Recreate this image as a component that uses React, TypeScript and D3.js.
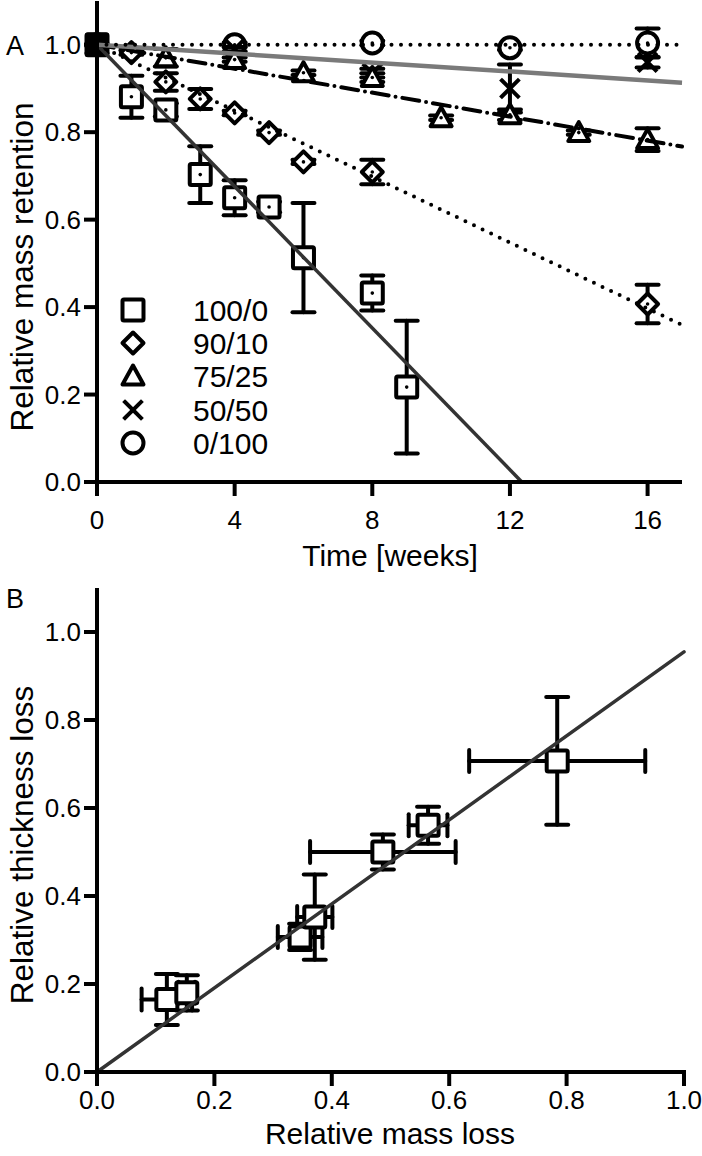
import React from "react";
import * as d3 from "d3";

// ---------- Panel A data ----------
const seriesNames = ["100/0", "90/10", "75/25", "50/50", "0/100"];
const seriesShapes = ["square", "diamond", "triangle", "cross", "circle"];

const weeks100 = [0, 1, 2, 3, 4, 5, 6, 8, 9];
const mass100 = [1.0, 0.881, 0.851, 0.703, 0.65, 0.629, 0.513, 0.432, 0.217];
const err100 = [0, 0.048, 0.015, 0.065, 0.04, 0.012, 0.125, 0.04, 0.152];

const weeks90 = [0, 1, 2, 3, 4, 5, 6, 8, 16];
const mass90 = [1.0, 0.982, 0.915, 0.876, 0.844, 0.799, 0.732, 0.709, 0.407];
const err90 = [0, 0.005, 0.02, 0.023, 0.005, 0.005, 0.005, 0.028, 0.044];

const weeks75 = [0, 2, 4, 6, 8, 10, 12, 14, 16];
const mass75 = [1.0, 0.97, 0.966, 0.936, 0.925, 0.833, 0.84, 0.799, 0.783];
const err75 = [0, 0.02, 0.005, 0.005, 0.01, 0.005, 0.012, 0.005, 0.026];

const weeks50 = [0, 4, 8, 12, 16];
const mass50 = [1.0, 0.99, 0.935, 0.9, 0.96];
const err50 = [0, 0.005, 0.01, 0.055, 0.012];

const weeks0 = [0, 4, 8, 12, 16];
const mass0 = [1.0, 1.0, 1.004, 0.993, 1.004];
const err0 = [0, 0.005, 0.005, 0.005, 0.033];

const fitIntercepts = [1.0, 1.0, 1.0, 1.0, 1.0];
const fitSlopes = [-0.081, -0.0377, -0.0137, -0.0051, 0];

const timeTicks = [0, 4, 8, 12, 16];
const retentionTicks = [0, 0.2, 0.4, 0.6, 0.8, 1.0];

// ---------- Panel B data ----------
const massLoss = [0.119, 0.153, 0.346, 0.371, 0.487, 0.564, 0.784];
const massLossErr = [0.043, 0.014, 0.038, 0.03, 0.124, 0.033, 0.15];
const thickLoss = [0.165, 0.18, 0.307, 0.352, 0.5, 0.561, 0.707];
const thickLossErr = [0.058, 0.04, 0.03, 0.097, 0.04, 0.042, 0.145];
const fitBSlope = 0.955;
const lossTicks = [0, 0.2, 0.4, 0.6, 0.8, 1.0];
const thickTicks = [0, 0.2, 0.4, 0.6, 0.8, 1.0];

const FONT = "'Liberation Sans', Arial, Helvetica, sans-serif";

function Marker({ shape, x, y, dot }: { shape: string; x: number; y: number; dot?: boolean }) {
  const sw = 4;
  let el: React.ReactNode = null;
  if (shape === "square") {
    el = <rect x={x - 10.5} y={y - 10.5} width={21} height={21} fill="#fff" stroke="#000" strokeWidth={sw} rx={1.5} />;
  } else if (shape === "diamond") {
    el = (
      <polygon
        points={`${x},${y - 10.5} ${x + 10.5},${y} ${x},${y + 10.5} ${x - 10.5},${y}`}
        fill="#fff"
        stroke="#000"
        strokeWidth={sw}
        strokeLinejoin="round"
      />
    );
  } else if (shape === "triangle") {
    el = (
      <polygon
        points={`${x},${y - 10.5} ${x + 10.5},${y + 8.5} ${x - 10.5},${y + 8.5}`}
        fill="#fff"
        stroke="#000"
        strokeWidth={sw}
        strokeLinejoin="round"
      />
    );
  } else if (shape === "cross") {
    el = (
      <g stroke="#000" strokeWidth={sw} strokeLinecap="square">
        <line x1={x - 8} y1={y - 8} x2={x + 8} y2={y + 8} />
        <line x1={x - 8} y1={y + 8} x2={x + 8} y2={y - 8} />
      </g>
    );
  } else if (shape === "circle") {
    el = <circle cx={x} cy={y} r={10.5} fill="#fff" stroke="#000" strokeWidth={sw} />;
  }
  return (
    <g>
      {el}
      {dot && shape !== "cross" ? <circle cx={x} cy={y} r={1.8} fill="#000" /> : null}
    </g>
  );
}

function VErr({ x, y1, y2, cap }: { x: number; y1: number; y2: number; cap: number }) {
  return (
    <g stroke="#000" strokeWidth={4} strokeLinecap="round">
      <line x1={x} y1={y1} x2={x} y2={y2} />
      <line x1={x - cap} y1={y1} x2={x + cap} y2={y1} />
      <line x1={x - cap} y1={y2} x2={x + cap} y2={y2} />
    </g>
  );
}

function HErr({ y, x1, x2, cap }: { y: number; x1: number; x2: number; cap: number }) {
  return (
    <g stroke="#000" strokeWidth={4} strokeLinecap="round">
      <line x1={x1} y1={y} x2={x2} y2={y} />
      <line x1={x1} y1={y - cap} x2={x1} y2={y + cap} />
      <line x1={x2} y1={y - cap} x2={x2} y2={y + cap} />
    </g>
  );
}

export default function App() {
  // Panel A scales
  const xA = d3.scaleLinear().domain([0, 17]).range([97, 682]);
  const yA = d3.scaleLinear().domain([0, 1.1]).range([482, 1]);
  // Panel B scales
  const xB = d3.scaleLinear().domain([0, 1]).range([97, 684]);
  const yB = d3.scaleLinear().domain([0, 1.1]).range([1072, 588]);

  const seriesW = [weeks100, weeks90, weeks75, weeks50, weeks0];
  const seriesM = [mass100, mass90, mass75, mass50, mass0];
  const seriesE = [err100, err90, err75, err50, err0];

  const fitStyles = [
    { stroke: "#333", width: 3.5, dash: undefined as string | undefined, cap: "butt" },
    { stroke: "#000", width: 4, dash: "0 9.5", cap: "round" },
    { stroke: "#000", width: 4, dash: "17 7 0 7", cap: "round" },
    { stroke: "#7a7a7a", width: 4.5, dash: undefined, cap: "butt" },
    { stroke: "#000", width: 4, dash: "0 9.5", cap: "round" },
  ];

  const line = d3.line<[number, number]>();

  const fitLines = fitIntercepts.map((b, i) => {
    const m = fitSlopes[i];
    let xEnd = 17;
    if (m < 0 && -b / m < 17) xEnd = -b / m;
    return line([
      [xA(0), yA(b)],
      [xA(xEnd), yA(b + m * xEnd)],
    ]);
  });

  const legendY = [310, 343, 376, 410, 443];

  return (
    <svg
      width={702}
      height={1156}
      style={{ position: "absolute", left: 0, top: 0, background: "#fff" }}
      fontFamily={FONT}
    >
      <rect x={0} y={0} width={702} height={1156} fill="#fff" />
      {/* ================= Panel A ================= */}
      <text x={15} y={55} fontSize={27} textAnchor="middle">A</text>

      {[4, 3, 2, 1, 0].map((si) => (
        <g key={"s" + si}>
          {seriesW[si].map((w, j) =>
            seriesE[si][j] > 0 ? (
              <VErr
                key={j}
                x={xA(w)}
                y1={yA(seriesM[si][j] + seriesE[si][j])}
                y2={yA(seriesM[si][j] - seriesE[si][j])}
                cap={11}
              />
            ) : null
          )}
          {seriesW[si].map((w, j) => (
            <Marker key={"m" + j} shape={seriesShapes[si]} x={xA(w)} y={yA(seriesM[si][j])} dot={j > 0} />
          ))}
        </g>
      ))}
      <rect x={xA(0) - 12} y={yA(1) - 12} width={24} height={24} fill="#000" rx={2} />

      {fitLines.map((d, i) => (
        <path
          key={"f" + i}
          d={d || ""}
          fill="none"
          stroke={fitStyles[i].stroke}
          strokeWidth={fitStyles[i].width}
          strokeDasharray={fitStyles[i].dash}
          strokeLinecap={fitStyles[i].cap as any}
        />
      ))}

      <g stroke="#000" strokeWidth={4}>
        <line x1={xA(0)} y1={yA(1.1)} x2={xA(0)} y2={yA(0) + 2} />
        <line x1={xA(0) - 2} y1={yA(0)} x2={xA(17)} y2={yA(0)} />
        {retentionTicks.map((t) => (
          <line key={"yt" + t} x1={xA(0) - 13} y1={yA(t)} x2={xA(0)} y2={yA(t)} />
        ))}
        {timeTicks.map((t) => (
          <line key={"xt" + t} x1={xA(t)} y1={yA(0)} x2={xA(t)} y2={yA(0) + 14} />
        ))}
      </g>
      {retentionTicks.map((t) => (
        <text key={"yl" + t} x={xA(0) - 16} y={yA(t) + 9} fontSize={26} textAnchor="end">
          {t.toFixed(1)}
        </text>
      ))}
      {timeTicks.map((t) => (
        <text key={"xl" + t} x={xA(t)} y={529} fontSize={26} textAnchor="middle">
          {t}
        </text>
      ))}
      <text x={390} y={566} fontSize={30} textAnchor="middle">Time [weeks]</text>
      <text transform="translate(33,267) rotate(-90)" fontSize={31.5} textAnchor="middle">
        Relative mass retention
      </text>

      {seriesNames.map((n, i) => (
        <g key={"lg" + i}>
          <Marker shape={seriesShapes[i]} x={133} y={legendY[i]} />
          <text x={193} y={legendY[i] + 11} fontSize={30}>{n}</text>
        </g>
      ))}

      {/* ================= Panel B ================= */}
      <text x={15} y={608} fontSize={27} textAnchor="middle">B</text>

      {massLoss.map((mx, i) => (
        <g key={"b" + i}>
          <VErr
            x={xB(mx)}
            y1={yB(thickLoss[i] + thickLossErr[i])}
            y2={yB(thickLoss[i] - thickLossErr[i])}
            cap={11}
          />
          <HErr
            y={yB(thickLoss[i])}
            x1={xB(mx - massLossErr[i])}
            x2={xB(mx + massLossErr[i])}
            cap={11}
          />
        </g>
      ))}
      {massLoss.map((mx, i) => (
        <Marker key={"bm" + i} shape="square" x={xB(mx)} y={yB(thickLoss[i])} />
      ))}
      <path
        d={line([
          [xB(0), yB(0)],
          [xB(1), yB(fitBSlope)],
        ]) || ""}
        stroke="#333"
        strokeWidth={3.5}
        strokeLinecap="round"
        fill="none"
      />

      <g stroke="#000" strokeWidth={4}>
        <line x1={xB(0)} y1={yB(1.1)} x2={xB(0)} y2={yB(0) + 2} />
        <line x1={xB(0) - 2} y1={yB(0)} x2={xB(1) + 2} y2={yB(0)} />
        {thickTicks.map((t) => (
          <line key={"byt" + t} x1={xB(0) - 13} y1={yB(t)} x2={xB(0)} y2={yB(t)} />
        ))}
        {lossTicks.map((t) => (
          <line key={"bxt" + t} x1={xB(t)} y1={yB(0)} x2={xB(t)} y2={yB(0) + 14} />
        ))}
      </g>
      {thickTicks.map((t) => (
        <text key={"byl" + t} x={xB(0) - 16} y={yB(t) + 9} fontSize={26} textAnchor="end">
          {t.toFixed(1)}
        </text>
      ))}
      {lossTicks.map((t) => (
        <text key={"bxl" + t} x={xB(t)} y={1109} fontSize={26} textAnchor="middle">
          {t.toFixed(1)}
        </text>
      ))}
      <text x={390} y={1144} fontSize={30} textAnchor="middle">Relative mass loss</text>
      <text transform="translate(33,845) rotate(-90)" fontSize={31.5} textAnchor="middle">
        Relative thickness loss
      </text>
    </svg>
  );
}
